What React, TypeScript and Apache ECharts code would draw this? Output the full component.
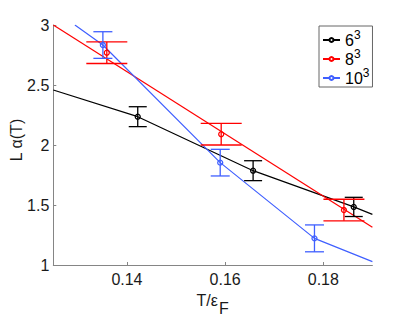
import React, { useEffect, useRef } from 'react';
import * as echarts from 'echarts';

// Legend / series names (base ^ exponent)
const seriesNames = ['6^3', '8^3', '10^3'];
const seriesColors = ['#000000', '#ff0000', '#3f5fff'];

// Data points (T/eps_F, L alpha(T), error half-width)
const tempL6 = [0.1422, 0.1657, 0.1862];
const alphaL6 = [2.236, 1.786, 1.484];
const errL6 = [0.083, 0.083, 0.08];

const tempL8 = [0.1359, 0.1592, 0.1842];
const alphaL8 = [2.769, 2.09, 1.458];
const errL8 = [0.09, 0.09, 0.09];

const tempL10 = [0.1351, 0.159, 0.1782];
const alphaL10 = [2.833, 1.853, 1.222];
const errL10 = [0.111, 0.111, 0.112];

// Fitted curves (sampled from the figure)
const curveL6X = [0.125, 0.1422, 0.1657, 0.1862, 0.19];
const curveL6Y = [2.458, 2.236, 1.786, 1.484, 1.422];
const curveL8X = [0.125, 0.19];
const curveL8Y = [3.0, 1.314];
const curveL10X = [0.1294, 0.1351, 0.159, 0.1782, 0.19];
const curveL10Y = [3.0, 2.833, 1.853, 1.222, 1.028];

// Axis ticks
const xTicks = [0.14, 0.16, 0.18];
const yMin = 1;
const yMax = 3;
const yStep = 0.5;
const xMin = 0.125;
const xMax = 0.19;

const FONT = '"Liberation Sans", Arial, Helvetica, sans-serif';
const AXIS_GRAY = '#858585';
const capHalf = [9, 20.5, 9.5];

export default function App() {
  const ref = useRef<HTMLDivElement>(null);

  useEffect(() => {
    if (!ref.current) return;
    const chart = echarts.init(ref.current, null, { renderer: 'svg' });

    const points = [
      tempL6.map((t, i) => [t, alphaL6[i], errL6[i]]),
      tempL8.map((t, i) => [t, alphaL8[i], errL8[i]]),
      tempL10.map((t, i) => [t, alphaL10[i], errL10[i]]),
    ];
    const curves = [
      curveL6X.map((x, i) => [x, curveL6Y[i]]),
      curveL8X.map((x, i) => [x, curveL8Y[i]]),
      curveL10X.map((x, i) => [x, curveL10Y[i]]),
    ];

    const lineSeries = seriesNames.map((name, k) => ({
      type: 'line',
      name,
      data: curves[k],
      showSymbol: false,
      symbol: 'emptyCircle',
      symbolSize: 4,
      color: seriesColors[k],
      lineStyle: { color: seriesColors[k], width: 1.2 },
      itemStyle: { color: seriesColors[k] },
      z: 2,
    }));

    const errSeries = seriesNames.map((name, k) => ({
      type: 'custom',
      name: 'err-' + name,
      data: points[k],
      encode: { x: 0, y: 1 },
      z: 3,
      renderItem: (params: any, api: any) => {
        const x = api.value(0);
        const y = api.value(1);
        const e = api.value(2);
        const c = api.coord([x, y]);
        const top = api.coord([x, y + e]);
        const bot = api.coord([x, y - e]);
        const hw = capHalf[k];
        const st = { stroke: seriesColors[k], lineWidth: 1.3, fill: 'none' };
        return {
          type: 'group',
          children: [
            { type: 'line', shape: { x1: c[0], y1: top[1], x2: c[0], y2: bot[1] }, style: st },
            { type: 'line', shape: { x1: c[0] - hw, y1: top[1], x2: c[0] + hw, y2: top[1] }, style: st },
            { type: 'line', shape: { x1: c[0] - hw, y1: bot[1], x2: c[0] + hw, y2: bot[1] }, style: st },
            { type: 'circle', shape: { cx: c[0], cy: c[1], r: 2.5 }, style: st },
          ],
        };
      },
    }));

    chart.setOption({
      animation: false,
      backgroundColor: '#ffffff',
      grid: { left: 53.3, right: 38.6, top: 25, bottom: 51, containLabel: false, outerBoundsMode: 'none' },
      xAxis: {
        type: 'value',
        min: xMin,
        max: xMax,
        splitLine: { show: false },
        axisLine: { show: true, onZero: false, lineStyle: { color: AXIS_GRAY, width: 1 } },
        axisTick: { show: true, inside: true, length: 3, customValues: xTicks, lineStyle: { color: AXIS_GRAY } },
        axisLabel: {
          customValues: xTicks,
          margin: 6,
          fontSize: 16,
          fontFamily: FONT,
          color: '#1a1a1a',
          formatter: (v: number) => String(v),
        },
      },
      yAxis: {
        type: 'value',
        min: yMin,
        max: yMax,
        interval: yStep,
        splitLine: { show: false },
        axisLine: { show: true, onZero: false, lineStyle: { color: AXIS_GRAY, width: 1 } },
        axisTick: { show: true, inside: true, length: 3, lineStyle: { color: AXIS_GRAY } },
        axisLabel: { margin: 4, fontSize: 16, fontFamily: FONT, color: '#1a1a1a' },
      },
      legend: {
        data: seriesNames,
        orient: 'vertical',
        left: 319,
        top: 26,
        padding: [3, 3, 1, 3],
        itemGap: 0,
        itemWidth: 17,
        itemHeight: 5,
        borderColor: '#666666',
        borderWidth: 1,
        backgroundColor: '#ffffff',
        formatter: (n: string) => {
          const [b, s] = n.split('^');
          return `{b|${b}}{s|${s}}`;
        },
        textStyle: {
          fontFamily: FONT,
          rich: {
            b: { fontSize: 16, fontFamily: FONT, color: '#000', lineHeight: 20 },
            s: { fontSize: 12, fontFamily: FONT, color: '#000', padding: [0, 0, 10, 0] },
          },
        },
      },
      graphic: [
        {
          type: 'text',
          x: 16,
          y: 140,
          rotation: Math.PI / 2,
          style: {
            text: 'L α(T)',
            font: `16px ${FONT}`,
            fill: '#1a1a1a',
            align: 'center',
            verticalAlign: 'middle',
          },
        },
        {
          type: 'text',
          x: 196.5,
          y: 300,
          style: { text: 'T/ε', font: `16px ${FONT}`, fill: '#1a1a1a', align: 'left', verticalAlign: 'middle' },
        },
        {
          type: 'text',
          x: 219,
          y: 308.5,
          style: { text: 'F', font: `16px ${FONT}`, fill: '#1a1a1a', align: 'left', verticalAlign: 'middle' },
        },
      ],
      series: [...lineSeries, ...errSeries],
    });

    return () => chart.dispose();
  }, []);

  return (
    <div
      ref={ref}
      style={{ position: 'fixed', left: 0, top: 0, width: 411, height: 316, background: '#fff' }}
    />
  );
}
